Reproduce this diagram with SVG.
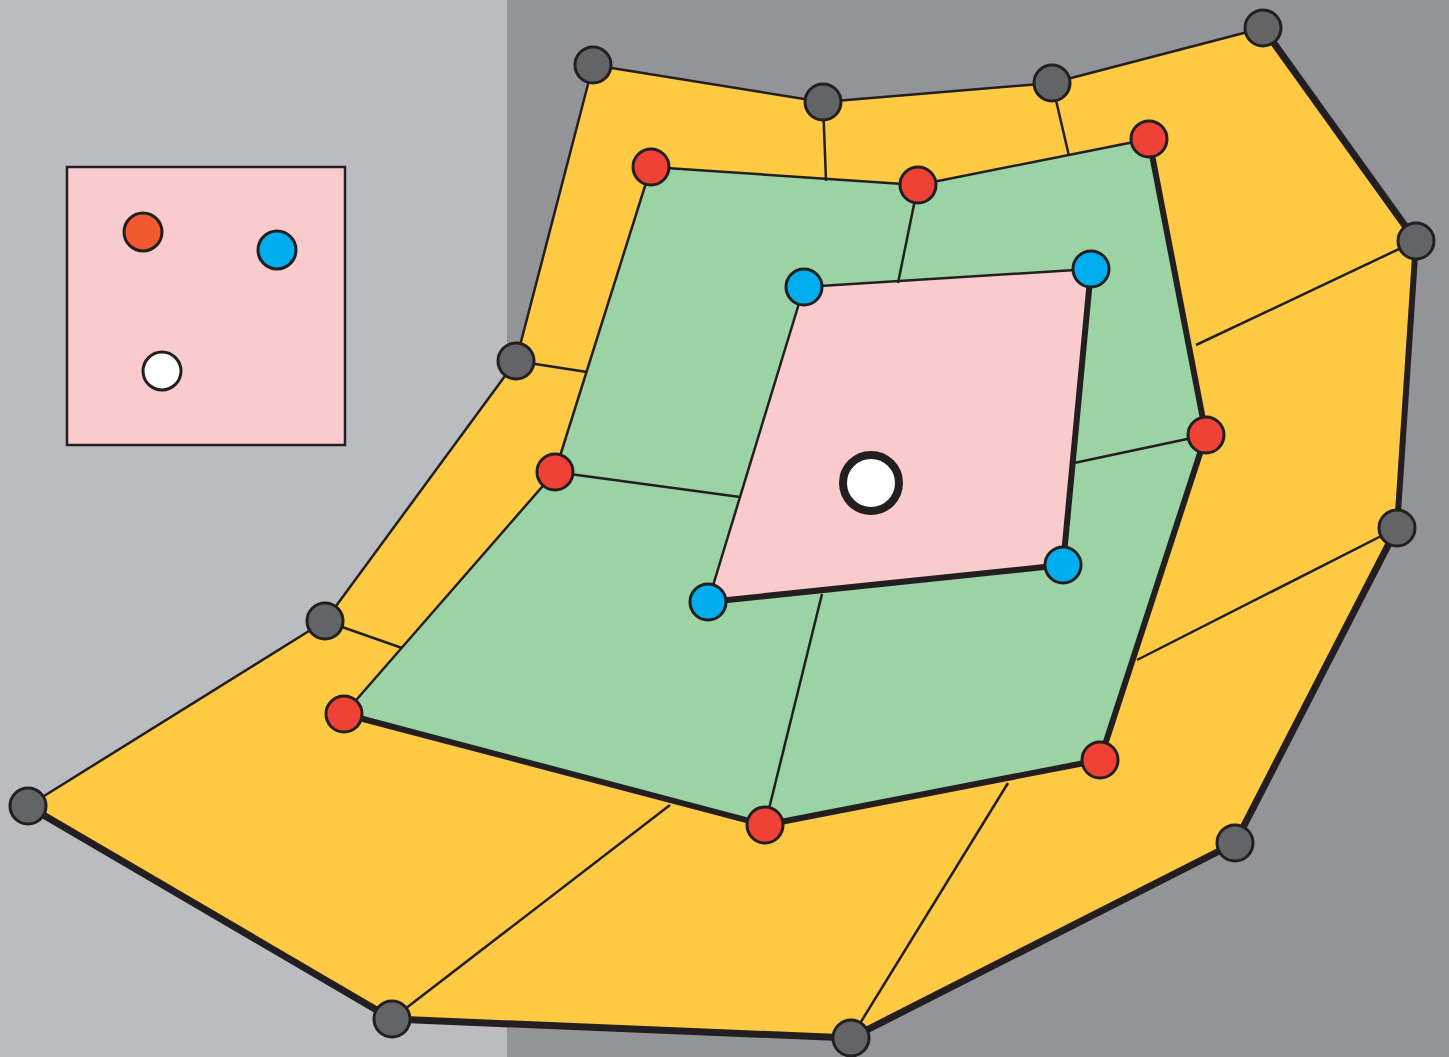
<svg xmlns="http://www.w3.org/2000/svg" width="1449" height="1057" viewBox="0 0 1449 1057">
<style>
.thin{fill:none;stroke:#231f20;stroke-width:2.5;stroke-linejoin:round}
.area{stroke:#231f20;stroke-width:2.5;stroke-linejoin:round}
.thick{fill:none;stroke:#231f20;stroke-width:7;stroke-linejoin:round;stroke-linecap:round}
.mid{fill:none;stroke:#231f20;stroke-width:6;stroke-linejoin:round;stroke-linecap:round}
.g{fill:#636466;stroke:#231f20;stroke-width:3}
.r{fill:#ef4136;stroke:#231f20;stroke-width:3}
.b{fill:#00aeef;stroke:#231f20;stroke-width:3}
</style>
<rect x="0" y="0" width="1449" height="1057" fill="#939498"/>
<rect x="0" y="0" width="507" height="1057" fill="#bbbcc0"/>
<g id="inset">
<rect x="67" y="167" width="278" height="278" fill="#f9cbcd" stroke="#231f20" stroke-width="2.5"/>
<circle cx="143" cy="232" r="19" fill="#f15a2f" stroke="#231f20" stroke-width="3"/>
<circle cx="277" cy="250" r="19" fill="#00aeef" stroke="#231f20" stroke-width="3"/>
<circle cx="162" cy="371" r="19" fill="#ffffff" stroke="#231f20" stroke-width="3"/>
</g>
<g id="outer-region">
<polygon class="area" fill="#fec943" points="593,65 823,102 1052,83 1263,28 1416,241 1397,528 1235,843 851,1038 392,1019 28,806 325,621 516,361"/>
</g>
<g id="middle-region">
<polygon class="area" fill="#9bd3a5" points="651,167 918,185 1149,139 1206,435 1100,760 765,825 344,714 555,472"/>
</g>
<g id="inner-region">
<polygon class="area" fill="#f9cbcd" points="804,287 1091,269 1063,565 708,602"/>
</g>
<g id="connectors">
<line class="thin" x1="823" y1="102" x2="826" y2="181"/>
<line class="thin" x1="1052" y1="83" x2="1069" y2="156"/>
<line class="thin" x1="516" y1="361" x2="587" y2="372"/>
<line class="thin" x1="325" y1="621" x2="402" y2="648"/>
<line class="thin" x1="1416" y1="241" x2="1196" y2="345"/>
<line class="thin" x1="1397" y1="528" x2="1137" y2="660"/>
<line class="thin" x1="851" y1="1038" x2="1008" y2="783"/>
<line class="thin" x1="392" y1="1019" x2="670" y2="805"/>
<line class="thin" x1="918" y1="185" x2="898" y2="283"/>
<line class="thin" x1="1206" y1="435" x2="1074" y2="463"/>
<line class="thin" x1="765" y1="825" x2="822" y2="594"/>
<line class="thin" x1="555" y1="472" x2="740" y2="497"/>
<polyline class="thick" points="1263,28 1416,241"/>
<polyline class="mid" points="1416,241 1397,528"/>
<polyline class="thick" points="1397,528 1235,843 851,1038 392,1019 28,806"/>
<polyline class="mid" points="1149,139 1206,435 1100,760 765,825 344,714"/>
<polyline class="mid" points="1091,269 1063,565 708,602"/>
</g>
<g id="gray-nodes">
<circle class="g" cx="593" cy="65" r="18"/>
<circle class="g" cx="823" cy="102" r="18"/>
<circle class="g" cx="1052" cy="83" r="18"/>
<circle class="g" cx="1263" cy="28" r="18"/>
<circle class="g" cx="1416" cy="241" r="18"/>
<circle class="g" cx="1397" cy="528" r="18"/>
<circle class="g" cx="1235" cy="843" r="18"/>
<circle class="g" cx="851" cy="1038" r="18"/>
<circle class="g" cx="392" cy="1019" r="18"/>
<circle class="g" cx="28" cy="806" r="18"/>
<circle class="g" cx="325" cy="621" r="18"/>
<circle class="g" cx="516" cy="361" r="18"/>
</g>
<g id="red-nodes">
<circle class="r" cx="651" cy="167" r="18"/>
<circle class="r" cx="918" cy="185" r="18"/>
<circle class="r" cx="1149" cy="139" r="18"/>
<circle class="r" cx="1206" cy="435" r="18"/>
<circle class="r" cx="1100" cy="760" r="18"/>
<circle class="r" cx="765" cy="825" r="18"/>
<circle class="r" cx="344" cy="714" r="18"/>
<circle class="r" cx="555" cy="472" r="18"/>
</g>
<g id="blue-nodes">
<circle class="b" cx="804" cy="287" r="18"/>
<circle class="b" cx="1091" cy="269" r="18"/>
<circle class="b" cx="1063" cy="565" r="18"/>
<circle class="b" cx="708" cy="602" r="18"/>
</g>
<g id="center-node">
<circle cx="871" cy="483" r="28" fill="#ffffff" stroke="#231f20" stroke-width="8"/>
</g>
</svg>
